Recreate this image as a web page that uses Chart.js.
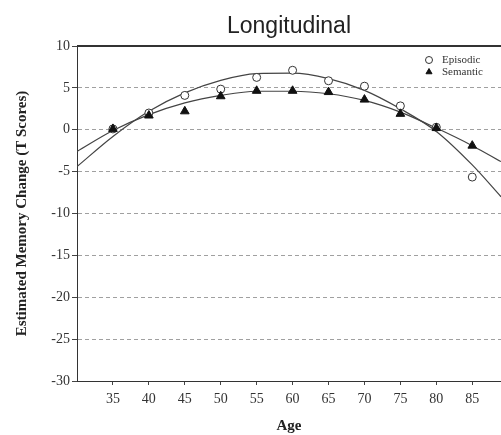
<!DOCTYPE html>
<html>
<head>
<meta charset="utf-8">
<script src="https://cdn.jsdelivr.net/npm/chart.js@4.4.1/dist/chart.umd.min.js"></script>
<style>
  html, body { margin: 0; padding: 0; background: #fff; }
  #wrap { width: 501px; height: 435px; }
</style>
</head>
<body>
<div id="wrap"><canvas id="memoryChart" width="501" height="435"></canvas></div>
<script>
// Ages at which the two memory types were measured
const ages = [35, 40, 45, 50, 55, 60, 65, 70, 75, 80, 85];
const episodicScores = [0.1, 2.0, 4.1, 4.85, 6.25, 7.1, 5.85, 5.2, 2.85, 0.3, -5.65];
const semanticScores = [0.1, 1.7, 2.2, 4.0, 4.65, 4.65, 4.5, 3.6, 1.9, 0.2, -1.9];

// Fitted trend curves
const fitAges = [30, 35, 40, 45, 50, 55, 60, 65, 70, 75, 80, 85, 89];
const episodicFit = [-4.4, -0.8, 2.2, 4.4, 5.9, 6.7, 6.75, 6.1, 4.7, 2.5, -0.2, -4.2, -8.0];
const semanticFit = [-2.6, -0.1, 1.8, 3.2, 4.1, 4.6, 4.6, 4.3, 3.5, 2.1, 0.2, -1.9, -3.8];

// Axis ticks
const xTicks = [35, 40, 45, 50, 55, 60, 65, 70, 75, 80, 85];
const yTicks = [10, 5, 0, -5, -10, -15, -20, -25, -30];

const chartTitle = 'Longitudinal';
const serif = '"Liberation Serif", "Times New Roman", serif';

function toPoints(xs, ys) {
    return xs.map((x, i) => ({ x: x, y: ys[i] }));
}

// Title centred over the plot, heavy top frame line and the small corner legend
const frameAndLegend = {
    id: 'frameAndLegend',
    afterDraw(chart) {
        const ctx = chart.ctx;
        const area = chart.chartArea;
        const items = chart.data.datasets.filter(d => d.legendText);

        ctx.save();
        ctx.fillStyle = '#222';
        ctx.font = '23px "Liberation Sans", Arial, sans-serif';
        ctx.textAlign = 'center';
        ctx.textBaseline = 'middle';
        ctx.fillText(chartTitle, (area.left + area.right) / 2, 27);

        ctx.strokeStyle = '#333';
        ctx.lineWidth = 2;
        ctx.beginPath();
        ctx.moveTo(area.left, area.top);
        ctx.lineTo(area.right, area.top);
        ctx.stroke();

        ctx.font = '11px ' + serif;
        ctx.textAlign = 'left';
        items.forEach((ds, i) => {
            const x = area.right - 72;
            const y = area.top + 14 + i * 12;
            ctx.fillStyle = ds.pointBackgroundColor;
            ctx.strokeStyle = ds.pointBorderColor;
            ctx.lineWidth = 1;
            Chart.helpers.drawPoint(ctx, { pointStyle: ds.pointStyle, radius: 3.5, borderWidth: 1, rotation: 0 }, x, y);
            ctx.fillStyle = '#333';
            ctx.fillText(ds.legendText, x + 13, y);
        });
        ctx.restore();
    }
};

const config = {
    type: 'scatter',
    data: {
        datasets: [
            {
                legendText: 'Episodic',
                data: toPoints(ages, episodicScores),
                pointStyle: 'circle',
                pointRadius: 4,
                pointBackgroundColor: '#ffffff',
                pointBorderColor: '#333333',
                pointBorderWidth: 1,
                order: 0
            },
            {
                legendText: 'Semantic',
                data: toPoints(ages, semanticScores),
                pointStyle: 'triangle',
                pointRadius: 5,
                pointBackgroundColor: '#111111',
                pointBorderColor: '#111111',
                pointBorderWidth: 1,
                order: -1
            },
            {
                data: toPoints(fitAges, episodicFit),
                showLine: true,
                pointRadius: 0,
                borderColor: '#444444',
                borderWidth: 1.2,
                cubicInterpolationMode: 'monotone',
                order: 1
            },
            {
                data: toPoints(fitAges, semanticFit),
                showLine: true,
                pointRadius: 0,
                borderColor: '#444444',
                borderWidth: 1.2,
                cubicInterpolationMode: 'monotone',
                order: 1
            }
        ]
    },
    options: {
        responsive: false,
        devicePixelRatio: 1,
        animation: false,
        layout: { padding: { top: 46, left: 0, right: 0, bottom: 0 }, autoPadding: false },
        plugins: {
            legend: { display: false },
            tooltip: { enabled: false },
            title: { display: false }
        },
        scales: {
            x: {
                type: 'linear',
                min: 30,
                max: 89,
                afterBuildTicks: scale => { scale.ticks = xTicks.map(v => ({ value: v })); },
                afterFit: scale => {
                    scale.height = 54;
                    scale.paddingLeft = 0;
                    scale.paddingRight = 0;
                },
                grid: { drawOnChartArea: false, drawTicks: true, tickLength: 4, tickColor: '#444' },
                border: { display: true, color: '#333', width: 1 },
                ticks: { color: '#333', padding: 6, maxRotation: 0, font: { family: serif, size: 14 } },
                title: {
                    display: true,
                    text: 'Age',
                    color: '#222',
                    font: { family: serif, size: 15, weight: 'bold' },
                    padding: { top: 0, bottom: 0 }
                }
            },
            y: {
                type: 'linear',
                min: -30,
                max: 10,
                afterBuildTicks: scale => { scale.ticks = yTicks.map(v => ({ value: v })); },
                afterFit: scale => {
                    scale.width = 77;
                    scale.paddingTop = 0;
                    scale.paddingBottom = 0;
                },
                grid: {
                    color: c => (c.tick && (c.tick.value === 10 || c.tick.value === -30)) ? 'rgba(0,0,0,0)' : '#a0a0a0',
                    lineWidth: 1,
                    drawTicks: true,
                    tickLength: 5,
                    tickColor: '#444'
                },
                border: { display: true, color: '#333', width: 1, dash: [4, 3] },
                ticks: { color: '#333', padding: 2, font: { family: serif, size: 14 } },
                title: {
                    display: true,
                    text: 'Estimated Memory Change (T Scores)',
                    color: '#222',
                    font: { family: serif, size: 15, weight: 'bold' },
                    padding: { top: 13, bottom: 0 }
                }
            }
        }
    },
    plugins: [frameAndLegend]
};

new Chart(document.getElementById('memoryChart'), config);
</script>
</body>
</html>
